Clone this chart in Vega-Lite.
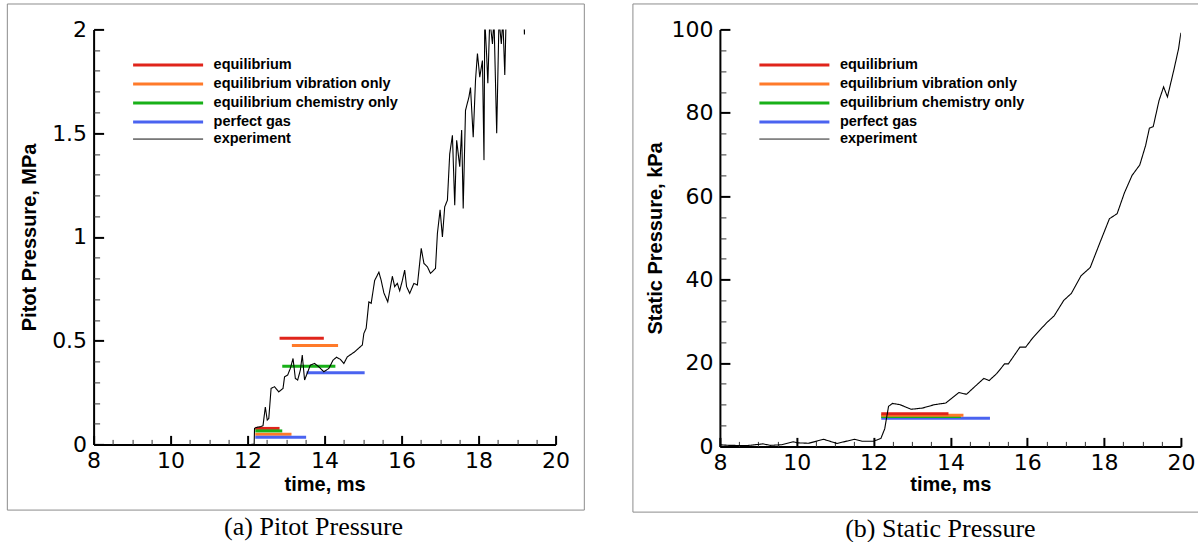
{
  "$schema": "https://vega.github.io/schema/vega-lite/v6.json",
  "padding": {"left": 6.6, "top": 3.4, "right": 0, "bottom": 0},
  "spacing": 46.3,
  "config": {"view": {"stroke": null}, "axis": {"grid": false}},
  "datasets": {
    "pitot_model": [
      {"series": "equilibrium", "seg": "a", "t": 12.2, "p": 0.077},
      {"series": "equilibrium", "seg": "a", "t": 12.83, "p": 0.077},
      {"series": "equilibrium", "seg": "b", "t": 12.83, "p": 0.512},
      {"series": "equilibrium", "seg": "b", "t": 13.98, "p": 0.512},
      {"series": "equilibrium vibration only", "seg": "a", "t": 12.2, "p": 0.049},
      {"series": "equilibrium vibration only", "seg": "a", "t": 13.14, "p": 0.049},
      {"series": "equilibrium vibration only", "seg": "b", "t": 13.15, "p": 0.477},
      {"series": "equilibrium vibration only", "seg": "b", "t": 14.35, "p": 0.477},
      {"series": "equilibrium chemistry only", "seg": "a", "t": 12.2, "p": 0.065},
      {"series": "equilibrium chemistry only", "seg": "a", "t": 12.9, "p": 0.065},
      {"series": "equilibrium chemistry only", "seg": "b", "t": 12.9, "p": 0.377},
      {"series": "equilibrium chemistry only", "seg": "b", "t": 14.28, "p": 0.377},
      {"series": "perfect gas", "seg": "a", "t": 12.2, "p": 0.035},
      {"series": "perfect gas", "seg": "a", "t": 13.52, "p": 0.035},
      {"series": "perfect gas", "seg": "b", "t": 13.53, "p": 0.345},
      {"series": "perfect gas", "seg": "b", "t": 15.04, "p": 0.345}
    ],
    "pitot_exp": [
      {"t": 12.1, "p": 0}, {"t": 12.17, "p": 0}, {"t": 12.18, "p": 0.077}, {"t": 12.25, "p": 0.083},
      {"t": 12.33, "p": 0.085}, {"t": 12.4, "p": 0.09}, {"t": 12.46, "p": 0.18}, {"t": 12.51, "p": 0.117},
      {"t": 12.55, "p": 0.125}, {"t": 12.61, "p": 0.27}, {"t": 12.7, "p": 0.278}, {"t": 12.81, "p": 0.253},
      {"t": 12.92, "p": 0.27}, {"t": 12.96, "p": 0.326}, {"t": 13.04, "p": 0.334}, {"t": 13.11, "p": 0.366},
      {"t": 13.18, "p": 0.414}, {"t": 13.24, "p": 0.318}, {"t": 13.3, "p": 0.31}, {"t": 13.37, "p": 0.358},
      {"t": 13.42, "p": 0.43}, {"t": 13.48, "p": 0.31}, {"t": 13.53, "p": 0.334}, {"t": 13.63, "p": 0.382},
      {"t": 13.74, "p": 0.39}, {"t": 13.85, "p": 0.374}, {"t": 13.98, "p": 0.35}, {"t": 14.11, "p": 0.366},
      {"t": 14.22, "p": 0.406}, {"t": 14.31, "p": 0.42}, {"t": 14.41, "p": 0.41}, {"t": 14.5, "p": 0.39},
      {"t": 14.59, "p": 0.422}, {"t": 14.78, "p": 0.446}, {"t": 14.98, "p": 0.479}, {"t": 15.02, "p": 0.535},
      {"t": 15.08, "p": 0.56}, {"t": 15.15, "p": 0.687}, {"t": 15.21, "p": 0.68}, {"t": 15.3, "p": 0.79},
      {"t": 15.41, "p": 0.83}, {"t": 15.47, "p": 0.79}, {"t": 15.54, "p": 0.73}, {"t": 15.64, "p": 0.687},
      {"t": 15.76, "p": 0.81}, {"t": 15.82, "p": 0.76}, {"t": 15.89, "p": 0.776}, {"t": 15.95, "p": 0.74},
      {"t": 16.02, "p": 0.79}, {"t": 16.08, "p": 0.84}, {"t": 16.13, "p": 0.76}, {"t": 16.21, "p": 0.728},
      {"t": 16.32, "p": 0.776}, {"t": 16.41, "p": 0.768}, {"t": 16.51, "p": 0.945}, {"t": 16.58, "p": 0.872},
      {"t": 16.67, "p": 0.856}, {"t": 16.75, "p": 0.824}, {"t": 16.88, "p": 0.848}, {"t": 16.93, "p": 1.017},
      {"t": 17.0, "p": 1.13}, {"t": 17.06, "p": 1.0}, {"t": 17.12, "p": 1.145}, {"t": 17.19, "p": 1.177},
      {"t": 17.25, "p": 1.4}, {"t": 17.32, "p": 1.49}, {"t": 17.38, "p": 1.153}, {"t": 17.43, "p": 1.466},
      {"t": 17.51, "p": 1.338}, {"t": 17.56, "p": 1.515}, {"t": 17.6, "p": 1.137}, {"t": 17.66, "p": 1.61},
      {"t": 17.75, "p": 1.675}, {"t": 17.79, "p": 1.72}, {"t": 17.86, "p": 1.48}, {"t": 17.92, "p": 1.756},
      {"t": 17.97, "p": 1.884}, {"t": 18.03, "p": 1.77}, {"t": 18.1, "p": 1.85}, {"t": 18.14, "p": 1.37},
      {"t": 18.16, "p": 2.05}, {"t": 18.21, "p": 1.87}, {"t": 18.24, "p": 1.74}, {"t": 18.29, "p": 2.05},
      {"t": 18.36, "p": 1.93}, {"t": 18.4, "p": 2.05}, {"t": 18.47, "p": 1.5}, {"t": 18.53, "p": 2.05},
      {"t": 18.59, "p": 1.93}, {"t": 18.63, "p": 2.05}, {"t": 18.68, "p": 1.78}, {"t": 18.72, "p": 2.1},
      {"t": 18.9, "p": 2.4}, {"t": 19.15, "p": 2.3}, {"t": 19.19, "p": 1.975}, {"t": 19.21, "p": 2.3},
      {"t": 19.6, "p": 2.5}, {"t": 20.0, "p": 2.6}
    ],
    "static_model": [
      {"series": "perfect gas", "t": 12.2, "p": 6.75},
      {"series": "perfect gas", "t": 15.03, "p": 6.75},
      {"series": "equilibrium chemistry only", "t": 12.2, "p": 7.15},
      {"series": "equilibrium chemistry only", "t": 14.27, "p": 7.15},
      {"series": "equilibrium vibration only", "t": 12.2, "p": 7.45},
      {"series": "equilibrium vibration only", "t": 14.34, "p": 7.45},
      {"series": "equilibrium", "t": 12.2, "p": 7.8},
      {"series": "equilibrium", "t": 13.95, "p": 7.8}
    ],
    "static_exp": [
      {"t": 8.0, "p": 0.4}, {"t": 8.23, "p": 0.25}, {"t": 8.72, "p": 0.2}, {"t": 9.12, "p": 0.6},
      {"t": 9.32, "p": 0.25}, {"t": 9.61, "p": 0.4}, {"t": 9.91, "p": 1.1}, {"t": 10.01, "p": 0.85},
      {"t": 10.31, "p": 0.75}, {"t": 10.7, "p": 1.7}, {"t": 11.05, "p": 0.7}, {"t": 11.5, "p": 1.7},
      {"t": 11.7, "p": 1.25}, {"t": 12.0, "p": 1.25}, {"t": 12.19, "p": 1.9}, {"t": 12.29, "p": 4.2},
      {"t": 12.39, "p": 9.6}, {"t": 12.49, "p": 10.3}, {"t": 12.69, "p": 10.0}, {"t": 12.98, "p": 8.9},
      {"t": 13.28, "p": 9.2}, {"t": 13.58, "p": 10.0}, {"t": 13.88, "p": 10.4}, {"t": 14.22, "p": 12.9},
      {"t": 14.42, "p": 12.5}, {"t": 14.62, "p": 14.2}, {"t": 14.87, "p": 16.3}, {"t": 15.01, "p": 15.8},
      {"t": 15.21, "p": 17.5}, {"t": 15.41, "p": 19.8}, {"t": 15.51, "p": 19.8}, {"t": 15.81, "p": 23.8},
      {"t": 15.96, "p": 23.8}, {"t": 16.15, "p": 26.1}, {"t": 16.5, "p": 29.6}, {"t": 16.7, "p": 31.3},
      {"t": 16.95, "p": 35.0}, {"t": 17.15, "p": 36.7}, {"t": 17.4, "p": 40.9}, {"t": 17.64, "p": 42.9},
      {"t": 17.89, "p": 48.8}, {"t": 18.14, "p": 54.6}, {"t": 18.34, "p": 55.8}, {"t": 18.53, "p": 60.8},
      {"t": 18.73, "p": 65.0}, {"t": 18.93, "p": 67.5}, {"t": 19.08, "p": 72.1}, {"t": 19.18, "p": 76.3},
      {"t": 19.28, "p": 76.7}, {"t": 19.43, "p": 82.9}, {"t": 19.55, "p": 86.2}, {"t": 19.65, "p": 83.8},
      {"t": 19.82, "p": 90.4}, {"t": 19.94, "p": 95.4}, {"t": 20.0, "p": 99.2}
    ]
  },
  "resolve": {
    "scale": {"color": "independent", "strokeDash": "independent"},
    "legend": {"color": "independent", "strokeDash": "independent"}
  },
  "hconcat": [
    {
      "width": 462,
      "height": 415,
      "title": {"text": "(a) Pitot Pressure", "orient": "bottom", "anchor": "middle", "frame": "group", "font": "Liberation Serif", "fontSize": 26, "fontWeight": "normal", "color": "black", "baseline": "alphabetic", "offset": 24.5, "dx": -11},
      "resolve": {"scale": {"x": "independent", "y": "independent"}, "axis": {"x": "independent", "y": "independent"}},
      "layer": [
        {
          "data": {"values": [{}]},
          "mark": {"type": "rect", "fill": null, "stroke": "#8c8c8c", "strokeWidth": 1},
          "encoding": {
            "x": {"datum": 5.759, "type": "quantitative", "scale": {"domain": [8, 20], "nice": false},
              "axis": {
                "orient": "bottom",
                "values": [8, 10, 12, 14, 16, 18, 20],
                "format": "d",
                "ticks": false, "tickSize": 0,
                "domainColor": "black", "domainWidth": 2,
                "labelFont": "DejaVu Sans", "labelFontSize": 22, "labelColor": "black", "labelBaseline": "alphabetic",
                "labelPadding": 23, "labelFlush": false, "labelOverlap": false,
                "title": "time, ms", "titleFont": "Liberation Sans", "titleFontSize": 20, "titleFontWeight": "bold", "titleColor": "black",
                "titleBaseline": "alphabetic", "titleY": 45.7
              }},
            "x2": {"datum": 20.746},
            "y": {"datum": 2.1224, "type": "quantitative", "scale": {"domain": [0, 2], "nice": false},
              "axis": {
                "orient": "left",
                "values": [0, 0.5, 1, 1.5, 2],
                "format": "~g",
                "ticks": false, "tickSize": 0,
                "domainColor": "black", "domainWidth": 2,
                "labelFont": "DejaVu Sans", "labelFontSize": 22, "labelColor": "black", "labelBaseline": "middle",
                "labelPadding": 7, "labelFlush": false, "labelOverlap": false,
                "title": "Pitot Pressure, MPa", "titleFont": "Liberation Sans", "titleFontSize": 20, "titleFontWeight": "bold", "titleColor": "black",
                "titleBaseline": "alphabetic", "titleX": -58.5
              }},
            "y2": {"datum": -0.3166}
          }
        },
        {
          "data": {"name": "pitot_model"},
          "mark": {"type": "line", "strokeWidth": 3, "strokeCap": "butt"},
          "encoding": {
            "x": {"field": "t", "type": "quantitative", "scale": {"domain": [8, 20], "nice": false},
              "axis": {"orient": "bottom", "values": [8, 10, 12, 14, 16, 18, 20], "offset": -9, "ticks": true,
                "labels": false, "domain": false, "title": null, "tickSize": 9, "tickWidth": 2, "tickColor": "black"}},
            "y": {"field": "p", "type": "quantitative", "scale": {"domain": [0, 2], "nice": false},
              "axis": {"orient": "left", "values": [0, 0.5, 1, 1.5, 2], "offset": -10, "ticks": true,
                "labels": false, "domain": false, "title": null, "tickSize": 10, "tickWidth": 2, "tickColor": "black"}},
            "detail": {"field": "seg"},
            "color": {"field": "series", "type": "nominal",
              "scale": {"domain": ["equilibrium", "equilibrium vibration only", "equilibrium chemistry only", "perfect gas"], "range": ["#e0241b", "#ff7a2a", "#18b018", "#4a63f0"]},
              "legend": {"orient": "none", "legendX": 38, "legendY": 26.5, "title": null, "symbolType": "stroke", "symbolSize": 4900, "symbolStrokeWidth": 3,
                "labelFont": "Liberation Sans", "labelFontSize": 14.5, "labelFontWeight": "bold", "labelColor": "black", "labelOffset": 9,
                "clipHeight": 18.33, "rowPadding": 0, "padding": 0, "labelLimit": 400}}
          }
        },
        {
          "data": {"name": "pitot_exp"},
          "mark": {"type": "line", "color": "black", "strokeWidth": 1.1, "clip": true},
          "encoding": {
            "x": {"field": "t", "type": "quantitative", "scale": {"domain": [8, 20], "nice": false},
              "axis": {"orient": "bottom", "values": [8.5, 9, 9.5, 10.5, 11, 11.5, 12.5, 13, 13.5, 14.5, 15, 15.5, 16.5, 17, 17.5, 18.5, 19, 19.5], "offset": -5, "ticks": true,
                "labels": false, "domain": false, "title": null, "tickSize": 5, "tickWidth": 1, "tickColor": "#333"}},
            "y": {"field": "p", "type": "quantitative", "scale": {"domain": [0, 2], "nice": false},
              "axis": {"orient": "left", "values": [0.1, 0.2, 0.3, 0.4, 0.6, 0.7, 0.8, 0.9, 1.1, 1.2, 1.3, 1.4, 1.6, 1.7, 1.8, 1.9], "offset": -6, "ticks": true,
                "labels": false, "domain": false, "title": null, "tickSize": 6, "tickWidth": 1, "tickColor": "#333"}},
            "strokeDash": {"datum": "experiment", "scale": {"domain": ["experiment"], "range": [[1, 0]]},
              "legend": {"orient": "none", "legendX": 39, "legendY": 100.5, "title": null, "symbolType": "stroke", "symbolSize": 4900, "symbolStrokeWidth": 1, "symbolStrokeColor": "black",
                "labelFont": "Liberation Sans", "labelFontSize": 14.5, "labelFontWeight": "bold", "labelColor": "black", "labelOffset": 10,
                "clipHeight": 18.33, "rowPadding": 0, "padding": 0, "labelLimit": 400}}
          }
        }
      ]
    },
    {
      "width": 461,
      "height": 417,
      "title": {"text": "(b) Static Pressure", "orient": "bottom", "anchor": "middle", "frame": "group", "font": "Liberation Serif", "fontSize": 26, "fontWeight": "normal", "color": "black", "baseline": "alphabetic", "offset": 24.5, "dx": -10},
      "resolve": {"scale": {"x": "independent", "y": "independent"}, "axis": {"x": "independent", "y": "independent"}},
      "layer": [
        {
          "data": {"values": [{}]},
          "mark": {"type": "rule", "stroke": "#8c8c8c", "strokeWidth": 1},
          "encoding": {
            "x": {"datum": 5.736, "type": "quantitative", "scale": {"domain": [8, 20], "nice": false},
              "axis": {
                "orient": "bottom",
                "values": [8, 10, 12, 14, 16, 18, 20],
                "format": "d",
                "ticks": false, "tickSize": 0,
                "domainColor": "black", "domainWidth": 2,
                "labelFont": "DejaVu Sans", "labelFontSize": 22, "labelColor": "black", "labelBaseline": "alphabetic",
                "labelPadding": 23.5, "labelFlush": false, "labelOverlap": false,
                "title": "time, ms", "titleFont": "Liberation Sans", "titleFontSize": 20, "titleFontWeight": "bold", "titleColor": "black",
                "titleBaseline": "alphabetic", "titleY": 44.5
              }},
            "x2": {"datum": 20.47},
            "y": {"datum": 106.1, "type": "quantitative", "scale": {"domain": [0, 100], "nice": false},
              "axis": {
                "orient": "left",
                "values": [0, 20, 40, 60, 80, 100],
                "format": "d",
                "ticks": false, "tickSize": 0,
                "domainColor": "black", "domainWidth": 2,
                "labelFont": "DejaVu Sans", "labelFontSize": 22, "labelColor": "black", "labelBaseline": "middle",
                "labelPadding": 7, "labelFlush": false, "labelOverlap": false,
                "title": "Static Pressure, kPa", "titleFont": "Liberation Sans", "titleFontSize": 20, "titleFontWeight": "bold", "titleColor": "black",
                "titleBaseline": "alphabetic", "titleX": -58
              }}
          }
        },
        {
          "data": {"values": [{}]},
          "mark": {"type": "rule", "stroke": "#8c8c8c", "strokeWidth": 1},
          "encoding": {
            "x": {"datum": 5.736, "type": "quantitative", "scale": {"domain": [8, 20], "nice": false},
              "axis": {"orient": "bottom", "values": [8, 10, 12, 14, 16, 18, 20], "offset": -9, "ticks": true,
                "labels": false, "domain": false, "title": null, "tickSize": 9, "tickWidth": 2, "tickColor": "black"}},
            "x2": {"datum": 20.47},
            "y": {"datum": -15.76, "type": "quantitative", "scale": {"domain": [0, 100], "nice": false},
              "axis": {"orient": "left", "values": [0, 20, 40, 60, 80, 100], "offset": -10, "ticks": true,
                "labels": false, "domain": false, "title": null, "tickSize": 10, "tickWidth": 2, "tickColor": "black"}}
          }
        },
        {
          "data": {"values": [{}]},
          "mark": {"type": "rule", "stroke": "#8c8c8c", "strokeWidth": 1},
          "encoding": {
            "x": {"datum": 5.736, "type": "quantitative", "scale": {"domain": [8, 20], "nice": false},
              "axis": {"orient": "bottom", "values": [8.5, 9, 9.5, 10.5, 11, 11.5, 12.5, 13, 13.5, 14.5, 15, 15.5, 16.5, 17, 17.5, 18.5, 19, 19.5], "offset": -5, "ticks": true,
                "labels": false, "domain": false, "title": null, "tickSize": 5, "tickWidth": 1, "tickColor": "#333"}},
            "y": {"datum": 106.1, "type": "quantitative", "scale": {"domain": [0, 100], "nice": false},
              "axis": {"orient": "left", "values": [5, 10, 15, 25, 30, 35, 45, 50, 55, 65, 70, 75, 85, 90, 95], "offset": -6, "ticks": true,
                "labels": false, "domain": false, "title": null, "tickSize": 6, "tickWidth": 1, "tickColor": "#333"}},
            "y2": {"datum": -15.76}
          }
        },
        {
          "data": {"name": "static_model"},
          "mark": {"type": "line", "strokeWidth": 3, "strokeCap": "butt"},
          "encoding": {
            "x": {"field": "t", "type": "quantitative", "scale": {"domain": [8, 20], "nice": false}, "axis": null},
            "y": {"field": "p", "type": "quantitative", "scale": {"domain": [0, 100], "nice": false}, "axis": null},
            "color": {"field": "series", "type": "nominal",
              "scale": {"domain": ["equilibrium", "equilibrium vibration only", "equilibrium chemistry only", "perfect gas"], "range": ["#e0241b", "#ff7a2a", "#18b018", "#4a63f0"]},
              "legend": {"orient": "none", "legendX": 38, "legendY": 26.5, "title": null, "symbolType": "stroke", "symbolSize": 4900, "symbolStrokeWidth": 3,
                "labelFont": "Liberation Sans", "labelFontSize": 14.5, "labelFontWeight": "bold", "labelColor": "black", "labelOffset": 9,
                "clipHeight": 18.33, "rowPadding": 0, "padding": 0, "labelLimit": 400}}
          }
        },
        {
          "data": {"name": "static_exp"},
          "mark": {"type": "line", "color": "black", "strokeWidth": 1.1, "clip": true},
          "encoding": {
            "x": {"field": "t", "type": "quantitative", "scale": {"domain": [8, 20], "nice": false}, "axis": null},
            "y": {"field": "p", "type": "quantitative", "scale": {"domain": [0, 100], "nice": false}, "axis": null},
            "strokeDash": {"datum": "experiment", "scale": {"domain": ["experiment"], "range": [[1, 0]]},
              "legend": {"orient": "none", "legendX": 39, "legendY": 100.5, "title": null, "symbolType": "stroke", "symbolSize": 4900, "symbolStrokeWidth": 1, "symbolStrokeColor": "black",
                "labelFont": "Liberation Sans", "labelFontSize": 14.5, "labelFontWeight": "bold", "labelColor": "black", "labelOffset": 10,
                "clipHeight": 18.33, "rowPadding": 0, "padding": 0, "labelLimit": 400}}
          }
        }
      ]
    }
  ]
}
